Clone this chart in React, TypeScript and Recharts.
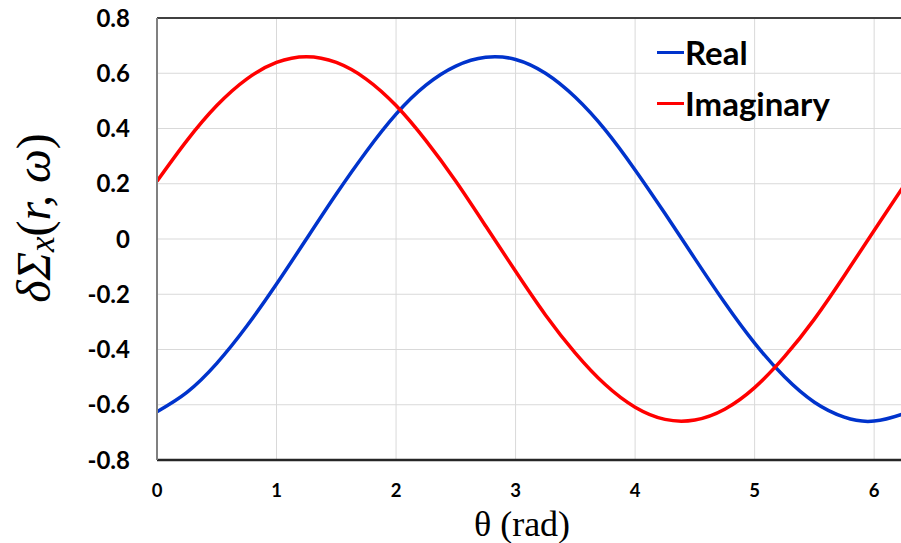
import { LineChart, Line, XAxis, YAxis, CartesianGrid, ReferenceLine } from "recharts";

// values
const theta = [0, 0.25, 0.5, 0.75, 1, 1.25, 1.5, 1.75, 2, 2.25, 2.5, 2.75, 3, 3.25, 3.5, 3.75, 4, 4.25, 4.5, 4.75, 5, 5.25, 5.5, 5.75, 6, 6.25, 6.3];
const realPart = [-0.625, -0.555, -0.45, -0.316, -0.163, 0.0, 0.163, 0.316, 0.452, 0.557, 0.626, 0.658, 0.65, 0.6, 0.513, 0.395, 0.25, 0.092, -0.071, -0.231, -0.377, -0.499, -0.591, -0.645, -0.659, -0.632, -0.622];
const imagPart = [0.209, 0.356, 0.483, 0.579, 0.639, 0.66, 0.639, 0.579, 0.483, 0.356, 0.209, 0.047, -0.117, -0.275, -0.413, -0.527, -0.609, -0.653, -0.655, -0.616, -0.538, -0.426, -0.29, -0.133, 0.031, 0.193, 0.224];
const xTicks = [0, 1, 2, 3, 4, 5, 6];
const yTicks = [-0.8, -0.6, -0.4, -0.2, 0, 0.2, 0.4, 0.6, 0.8];

const series = [
  { key: "real", name: "Real", color: "#0033cc" },
  { key: "imag", name: "Imaginary", color: "#ff0000" }
];

const data = theta.map((t, i) => ({ theta: t, real: realPart[i], imag: imagPart[i] }));

const font = "Lato, 'Open Sans', sans-serif";

function ChartLegend() {
  return (
    <div
      style={{
        position: "absolute",
        left: 657,
        top: 27,
        fontFamily: font,
        fontWeight: 700,
        fontSize: 33,
        lineHeight: "51px",
        color: "#000"
      }}
    >
      {series.map((s) => (
        <div key={s.key} style={{ display: "flex", alignItems: "center", whiteSpace: "nowrap" }}>
          <span style={{ display: "inline-block", width: 27, height: 3.5, background: s.color, marginRight: 1 }} />
          {s.name}
        </div>
      ))}
    </div>
  );
}

export default function App() {
  return (
    <div
      style={{
        position: "fixed",
        left: 0,
        top: 0,
        width: 901,
        height: 543,
        overflow: "hidden",
        background: "#fff"
      }}
    >
      <LineChart width={910} height={543} data={data} margin={{ top: 18, right: 0, left: 0, bottom: 0 }}>
        <CartesianGrid stroke="#d9d9d9" strokeWidth={1} />
        <ReferenceLine y={0.8} stroke="#404040" strokeWidth={2} />
        <XAxis
          type="number"
          dataKey="theta"
          domain={[0, 6.3]}
          ticks={xTicks}
          allowDataOverflow
          height={83}
          tickSize={0}
          tickMargin={24}
          axisLine={{ stroke: "#262626", strokeWidth: 2.5 }}
          tick={{ fill: "#000", fontFamily: font, fontWeight: 700, fontSize: 18.5 }}
          label={{
            content: () => (
              <text x={522} y={536} textAnchor="middle" fontFamily="'Liberation Serif', serif" fontSize={36} fill="#000">
                θ (rad)
              </text>
            )
          }}
        />
        <YAxis
          type="number"
          domain={[-0.8, 0.8]}
          ticks={yTicks}
          width={157}
          tickSize={0}
          tickMargin={27}
          tickFormatter={(v: number) => String(v)}
          axisLine={{ stroke: "#808080", strokeWidth: 2 }}
          tick={{ fill: "#000", fontFamily: font, fontWeight: 700, fontSize: 24 }}
          label={{
            content: () => (
              <text
                x={33}
                y={218}
                transform="rotate(-90, 33, 218)"
                textAnchor="middle"
                dominantBaseline="central"
                fontFamily="'Liberation Serif', serif"
                fontStyle="italic"
                fontSize={48}
                fill="#000"
              >
                δΣ
                <tspan fontSize={35} dy={9}>x</tspan>
                <tspan dy={-9} fontStyle="normal">(</tspan>
                <tspan>r, ω</tspan>
                <tspan fontStyle="normal">)</tspan>
              </text>
            )
          }}
        />
        {series.map((s) => (
          <Line
            key={s.key}
            type="natural"
            dataKey={s.key}
            name={s.name}
            stroke={s.color}
            strokeWidth={3.5}
            dot={false}
            isAnimationActive={false}
          />
        ))}
      </LineChart>
      <ChartLegend />
    </div>
  );
}
